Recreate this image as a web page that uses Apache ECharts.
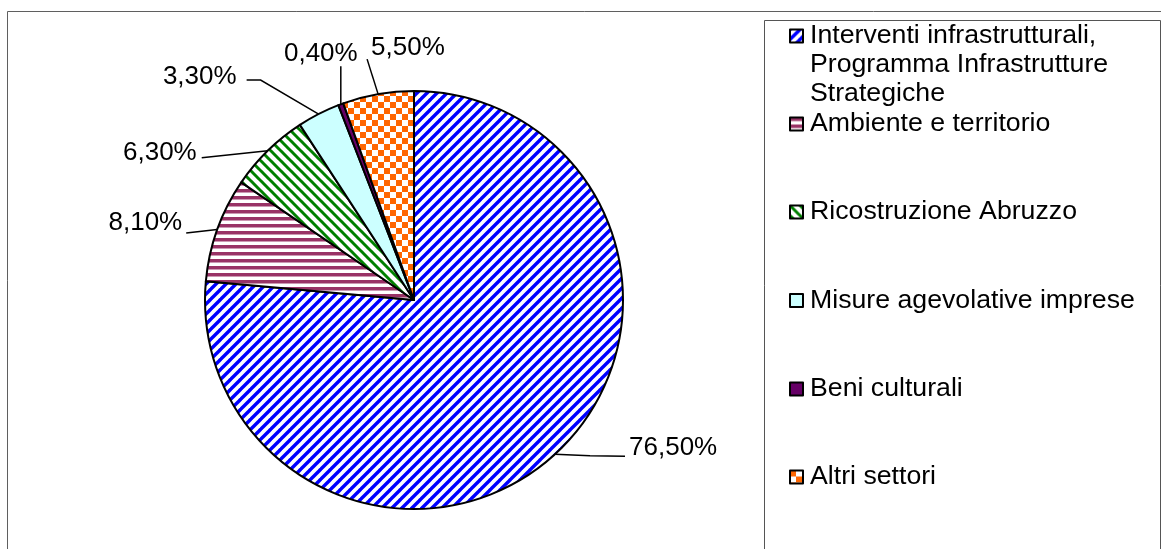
<!DOCTYPE html>
<html>
<head>
<meta charset="utf-8">
<script src="https://cdn.jsdelivr.net/npm/echarts@6/dist/echarts.min.js"></script>
<style>
html,body{margin:0;padding:0;background:#fff;}
#chart{width:1161px;height:549px;}
</style>
</head>
<body>
<div id="chart"></div>
<script>
// ---- data ----
const categories = [
  'Interventi infrastrutturali,\nProgramma Infrastrutture\nStrategiche',
  'Ambiente e territorio',
  'Ricostruzione Abruzzo',
  'Misure agevolative imprese',
  'Beni culturali',
  'Altri settori'
];
const shares = [76.5, 8.1, 6.3, 3.3, 0.4, 5.5];

// ---- layout / style (not data) ----
const FONT = '"Liberation Sans", Arial, sans-serif';
const legendRowY = [36, 124, 212, 300.5, 389, 477];
const LINE_H = 29;
const labelPlacement = [
  {dx: 74,  dy: -6,  align: 'left',   line: [[0,0],[35,1.5],[70,2]]},
  {dx: -35, dy: -6.5,align: 'right',  line: [[0,0],[-31,3.5]]},
  {dx: -71, dy: 2,   align: 'right',  line: [[0,0],[-66,7]]},
  {dx: -82, dy: -37, align: 'right',  line: [[0,0],[-58,-34],[-72,-34]]},
  {dx: -20, dy: -50, align: 'center', line: [[0,0],[0,-38]]},
  {dx: -7,  dy: -46, align: 'left',   line: [[0,0],[-11,-35]]}
];

function makeCanvas(s, draw) {
  const c = document.createElement('canvas');
  c.width = s; c.height = s;
  const ctx = c.getContext('2d');
  ctx.fillStyle = '#fff';
  ctx.fillRect(0, 0, s, s);
  draw(ctx, s);
  return c;
}
const patterns = [
  // blue wide upward diagonal
  makeCanvas(10, (ctx, s) => {
    ctx.strokeStyle = '#0000ff'; ctx.lineWidth = 3.4;
    for (let k = 0; k <= 2; k++) { ctx.beginPath(); ctx.moveTo(k*s + 1, -1); ctx.lineTo(k*s - s - 1, s + 1); ctx.stroke(); }
  }),
  // maroon horizontal stripes
  makeCanvas(7, (ctx, s) => { ctx.fillStyle = '#993366'; ctx.fillRect(0, 0, s, 3.5); }),
  // green downward diagonal
  makeCanvas(10, (ctx, s) => {
    ctx.strokeStyle = '#008000'; ctx.lineWidth = 3;
    for (let k = -1; k <= 1; k++) { ctx.beginPath(); ctx.moveTo(k*s - 1, -1); ctx.lineTo(k*s + s + 1, s + 1); ctx.stroke(); }
  }),
  null,
  null,
  // orange checkerboard
  makeCanvas(12, (ctx, s) => {
    ctx.fillStyle = '#ff6600'; ctx.fillRect(0, 0, s/2, s/2); ctx.fillRect(s/2, s/2, s/2, s/2);
  })
];
const solidColors = [null, null, null, '#ccffff', '#660066', null];

const seriesData = categories.map((name, i) => ({
  name: name,
  value: shares[i],
  itemStyle: {
    color: patterns[i] ? {image: patterns[i], repeat: 'repeat'} : solidColors[i]
  }
}));

// one legend per entry so each row sits at the reference's own height;
// multi-line names get blank leading lines so the icon lines up with the first line
const legends = categories.map((name, i) => {
  const lines = name.split('\n').length;
  const totalLines = 2 * lines - 1;
  return {
    data: [name],
    orient: 'vertical',
    left: 789,
    top: legendRowY[i] - totalLines * LINE_H / 2,
    padding: 0,
    itemWidth: 13,
    itemHeight: 13,
    icon: 'rect',
    selectedMode: false,
    formatter: n => '\n'.repeat(lines - 1) + n,
    itemStyle: {borderColor: '#000', borderWidth: 2},
    textStyle: {
      fontFamily: FONT, fontSize: 26.7, color: '#000', lineHeight: LINE_H,
      padding: [0, 0, 0, 2]
    }
  };
});

const chart = echarts.init(document.getElementById('chart'), null, {renderer: 'canvas'});
chart.setOption({
  animation: false,
  backgroundColor: '#fff',
  legend: legends,
  graphic: [
    {type: 'rect', shape: {x: 7.5, y: 11.5, width: 1200, height: 600}, style: {fill: 'none', stroke: '#5f5f5f', lineWidth: 1}, silent: true, z: -1},
    {type: 'rect', shape: {x: 764.5, y: 20.5, width: 396, height: 600}, style: {fill: 'none', stroke: '#555', lineWidth: 1}, silent: true, z: -1}
  ],
  series: [{
    type: 'pie',
    center: [414, 300],
    radius: 209,
    startAngle: 90,
    clockwise: true,
    avoidLabelOverlap: false,
    minShowLabelAngle: 0,
    data: seriesData,
    itemStyle: {borderColor: '#000', borderWidth: 2},
    emphasis: {disabled: true},
    label: {
      show: true,
      position: 'outside',
      fontFamily: FONT,
      fontSize: 26,
      color: '#000',
      formatter: p => p.value.toFixed(2).replace('.', ',') + '%'
    },
    labelLine: {show: true, length: 10, length2: 10, lineStyle: {color: '#000', width: 1.5}},
    labelLayout: function (params) {
      const a = params.labelLinePoints ? params.labelLinePoints[0] : [0, 0];
      const o = labelPlacement[params.dataIndex];
      return {
        x: a[0] + o.dx,
        y: a[1] + o.dy,
        align: o.align,
        verticalAlign: 'middle',
        labelLinePoints: o.line.map(p => [a[0] + p[0], a[1] + p[1]])
      };
    }
  }]
});
</script>
</body>
</html>
